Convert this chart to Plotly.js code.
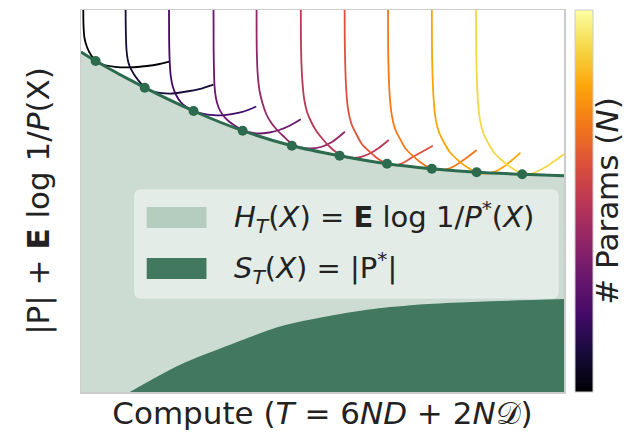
<!DOCTYPE html>
<html>
<head>
<meta charset="utf-8">
<script src="https://cdn.plot.ly/plotly-3.0.1.min.js"></script>
<style>html,body{margin:0;padding:0;background:#fff;}</style>
</head>
<body>
<div id="chart" style="width:636px;height:433px;"></div>
<script>
// Arbitrary units (no ticks on either axis): compute on x, description length on y
const frontierX = [0, 14.7, 64, 113, 162.3, 211.7, 259.7, 307.3, 352.3, 397.3, 443, 485];
const frontierY = [340, 331, 304.3, 281, 261.3, 246.3, 236.3, 228.3, 223.3, 219.7, 217.7, 216.3];

const optimaX = [14.7, 64, 113, 162.3, 211.7, 259.7, 307.3, 352.3, 397.3, 443];
const optimaY = [331, 304.3, 281, 261.3, 246.3, 236.3, 228.3, 223.3, 219.7, 217.7];

const paramsX = [49, 99, 149, 199, 249, 299, 349, 399, 485];
const paramsY = [0, 27, 47, 65.3, 76, 83.7, 88, 90.3, 93];

const curve1X = [2.3, 2.5, 3.5, 6, 10, 14.7, 22, 34, 49, 66, 79, 89];
const curve1Y = [395, 367, 354, 345, 337, 331.5, 327.5, 325.2, 324.7, 326, 328, 330.3];
const curve2X = [44.7, 45, 45.7, 47, 49, 53, 57.3, 64, 71, 79, 92, 109, 122, 133];
const curve2Y = [395, 362, 342, 332, 325.3, 318, 312, 304.3, 301, 299.2, 298.5, 301, 303.7, 307.3];
const curve3X = [88.3, 88.5, 89, 90, 92, 95.5, 100, 106, 113, 122, 133, 144, 159, 169, 176];
const curve3Y = [395, 352, 332, 317, 306, 297, 290, 285, 281.5, 278.3, 276.8, 276.8, 279.3, 282.5, 285.5];
const curve4X = [133, 133.2, 134, 135.5, 138, 142, 148, 155, 162.3, 170, 179, 189, 199, 210, 220.7];
const curve4Y = [395, 342, 307, 294, 285, 277.5, 271, 266, 262, 259.5, 258.5, 259.5, 262, 266.5, 272.7];
const curve5X = [176.3, 176.5, 177.5, 179.5, 182.5, 186, 190.5, 196, 203, 211.7, 219, 229, 241, 252, 265];
const curve5Y = [395, 342, 317, 300, 288, 278, 270, 263, 256, 248, 245, 243.5, 245, 250, 260.3];
const curve6X = [220.7, 221, 222.2, 224.1, 227, 231.2, 236.3, 242.6, 250, 259.7, 269, 279, 289, 299, 309];
const curve6Y = [395, 342, 312, 293, 280, 270, 261, 253, 245, 237.5, 234.5, 234.5, 238, 244, 252];
const curve7X = [264.7, 265, 266.4, 268.4, 271.5, 276.2, 281.8, 288.6, 296.7, 307.3, 317, 325, 333, 343, 353.3];
const curve7Y = [395, 342, 301.3, 281.3, 268.3, 258.3, 248.3, 241.3, 234.3, 228.3, 227, 230, 235, 240.5, 246.3];
const curve8X = [308.3, 308.6, 310, 312.2, 315.3, 320.2, 326, 333, 341.4, 352.3, 362, 371, 379, 389, 397.3];
const curve8Y = [395, 332, 296.3, 276.3, 263.3, 253.3, 243.3, 236.3, 229.3, 223.3, 222, 224, 228.5, 235.5, 242];
const curve9X = [352.3, 352.6, 354.1, 356.2, 359.5, 364.4, 370.4, 377.6, 386.2, 397.3, 407, 416, 424, 433, 441.3];
const curve9Y = [395, 332, 292.7, 272.7, 259.7, 249.7, 239.7, 232.7, 225.7, 219.7, 218.5, 220.5, 225, 232, 239.3];
const curve10X = [396.7, 397, 398.5, 400.7, 404, 409, 415, 422.3, 431, 442.3, 451, 459, 469, 477, 485];
const curve10Y = [395, 332, 292, 272, 259, 248.7, 239, 232, 225, 218.7, 218, 221, 226.5, 232, 238];

const curveColors = ['#000004', '#160b39', '#420a68', '#6a176e', '#932667',
                     '#bc3754', '#dd513a', '#f37819', '#fca50a', '#f6d746'];

const infernoScale = [
  [0.0, '#000004'], [0.1, '#160b39'], [0.2, '#420a68'], [0.3, '#6a176e'],
  [0.4, '#932667'], [0.5, '#bc3754'], [0.6, '#dd513a'], [0.7, '#f37819'],
  [0.8, '#fca50a'], [0.9, '#f6d746'], [1.0, '#fcffa4']
];

const legendLabels = [
  '<i>H</i><sub><i>T</i></sub>(<i>X</i>) = <b>E</b> log 1/<i>P</i><sup>*</sup>(<i>X</i>)',
  '<i>S</i><sub><i>T</i></sub>(<i>X</i>) = |P<sup>*</sup>|'
];

const LIGHT = '#cddcd3';
const DARK = '#41785f';
const LINE = '#2c6b4e';

const curvesX = [curve1X, curve2X, curve3X, curve4X, curve5X, curve6X, curve7X, curve8X, curve9X, curve10X];
const curvesY = [curve1Y, curve2Y, curve3Y, curve4Y, curve5Y, curve6Y, curve7Y, curve8Y, curve9Y, curve10Y];

const traces = [];
traces.push({x: frontierX, y: frontierY, type: 'scatter', mode: 'lines', fill: 'tozeroy',
  fillcolor: LIGHT, line: {width: 0, shape: 'spline', smoothing: 0.8}, hoverinfo: 'skip', showlegend: false});
traces.push({x: paramsX, y: paramsY, type: 'scatter', mode: 'lines', fill: 'tozeroy',
  fillcolor: DARK, line: {width: 0, shape: 'spline', smoothing: 0.8}, hoverinfo: 'skip', showlegend: false});
for (let i = 0; i < curvesX.length; i++) {
  traces.push({x: curvesX[i], y: curvesY[i], type: 'scatter', mode: 'lines',
    line: {color: curveColors[i], width: 1.8, shape: 'spline', smoothing: 0.7}, showlegend: false});
}
traces.push({x: frontierX, y: frontierY, type: 'scatter', mode: 'lines',
  line: {color: LINE, width: 3, shape: 'spline', smoothing: 0.8}, showlegend: false});
traces.push({x: optimaX, y: optimaY, type: 'scatter', mode: 'markers',
  marker: {color: LINE, size: 10}, showlegend: false});
// colorbar carrier
traces.push({x: [-50, -50], y: [-50, -50], type: 'scatter', mode: 'markers', hoverinfo: 'skip',
  marker: {size: 1, color: [0, 1], cmin: 0, cmax: 1, colorscale: infernoScale, showscale: true,
    colorbar: {x: 1.0227, xanchor: 'left', y: 0.5, yanchor: 'middle', len: 1.0, lenmode: 'fraction',
      thickness: 18, thicknessmode: 'pixels', xpad: 0, ypad: 0,
      outlinewidth: 1, outlinecolor: '#cccccc', showticklabels: false, ticks: '',
      title: {text: '# Params (<i>N</i>)', side: 'right', font: {family: 'DejaVu Sans', size: 31, color: '#222'}}}},
  showlegend: false});

const shapes = [
  {type: 'path', xref: 'x', yref: 'y',
   path: 'M 60,202 L 473,202 Q 479,202 479,196 L 479,100 Q 479,94 473,94 L 60,94 Q 54,94 54,100 L 54,196 Q 54,202 60,202 Z',
   fillcolor: 'rgba(230,238,233,0.85)', line: {color: 'rgba(235,242,238,0.9)', width: 1}, layer: 'above'},
  {type: 'rect', xref: 'x', yref: 'y', x0: 66, x1: 126, y0: 164, y1: 185,
   fillcolor: '#b5cdbf', line: {width: 0}, layer: 'above'},
  {type: 'rect', xref: 'x', yref: 'y', x0: 66, x1: 126, y0: 113, y1: 134,
   fillcolor: DARK, line: {width: 0}, layer: 'above'}
];

const annotations = [
  {x: 152, y: 175, xref: 'x', yref: 'y', text: legendLabels[0], showarrow: false, xanchor: 'left', yanchor: 'middle',
   font: {family: 'DejaVu Sans', size: 29, color: '#222'}},
  {x: 152, y: 124, xref: 'x', yref: 'y', text: legendLabels[1], showarrow: false, xanchor: 'left', yanchor: 'middle',
   font: {family: 'DejaVu Sans', size: 29, color: '#222'}}
];

const layout = {
  width: 636, height: 433,
  margin: {l: 81, r: 70, t: 10, b: 41, pad: 0},
  paper_bgcolor: '#ffffff', plot_bgcolor: '#ffffff',
  showlegend: false,
  font: {family: 'DejaVu Sans', color: '#222'},
  xaxis: {range: [0, 485], showgrid: false, zeroline: false, showticklabels: false, ticks: '',
    showline: true, mirror: true, linecolor: '#cccccc', linewidth: 1.5, fixedrange: true,
    title: {text: 'Compute (<i>T</i> = 6<i>ND</i> + 2<i>N</i>𝒟)', standoff: 10,
      font: {family: 'DejaVu Sans', size: 31, color: '#222'}}},
  yaxis: {range: [0, 382], showgrid: false, zeroline: false, showticklabels: false, ticks: '',
    showline: true, mirror: true, linecolor: '#cccccc', linewidth: 1.5, fixedrange: true,
    title: {text: '|P| + <b>E</b> log 1/<i>P</i>(X)', standoff: 20,
      font: {family: 'DejaVu Sans', size: 31, color: '#222'}}},
  shapes: shapes,
  annotations: annotations
};

Plotly.newPlot('chart', traces, layout, {staticPlot: true, displayModeBar: false});
</script>
</body>
</html>
